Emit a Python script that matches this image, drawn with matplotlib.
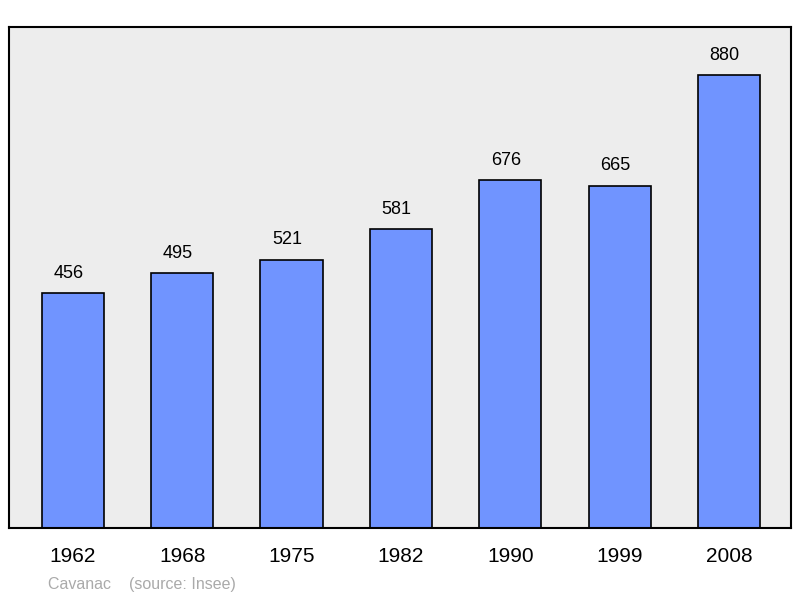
import matplotlib
matplotlib.use("Agg")
import matplotlib.pyplot as plt

years = ["1962", "1968", "1975", "1982", "1990", "1999", "2008"]
population = [456, 495, 521, 581, 676, 665, 880]

plt.rcParams['font.family'] = ['Liberation Sans', 'DejaVu Sans']
fig = plt.figure(figsize=(8, 5.98), dpi=100)
ax = fig.add_axes([9/800, 70/598, 782/800, 501/598])
ax.set_facecolor('#ededed')
x = list(range(len(years)))
ax.bar(x, population, width=0.57, color='#7094ff', edgecolor='black', linewidth=1.2)
for xi, v in zip(x, population):
    ax.text(xi - 0.04, v + 22, str(v), ha='center', va='bottom', fontsize=13)
ax.set_xlim(-0.585, 6.567)
ax.set_ylim(0, 973)
ax.set_yticks([])
ax.set_xticks(x)
ax.set_xticklabels(years, fontsize=15)
ax.tick_params(axis='x', length=0, pad=14)
for s in ax.spines.values():
    s.set_linewidth(1.5)
fig.text(48/800, 1 - 584/598, "Cavanac    (source: Insee)", color='#aaaaaa', fontsize=11.5, va='center')
fig.savefig("out.png", dpi=100)
